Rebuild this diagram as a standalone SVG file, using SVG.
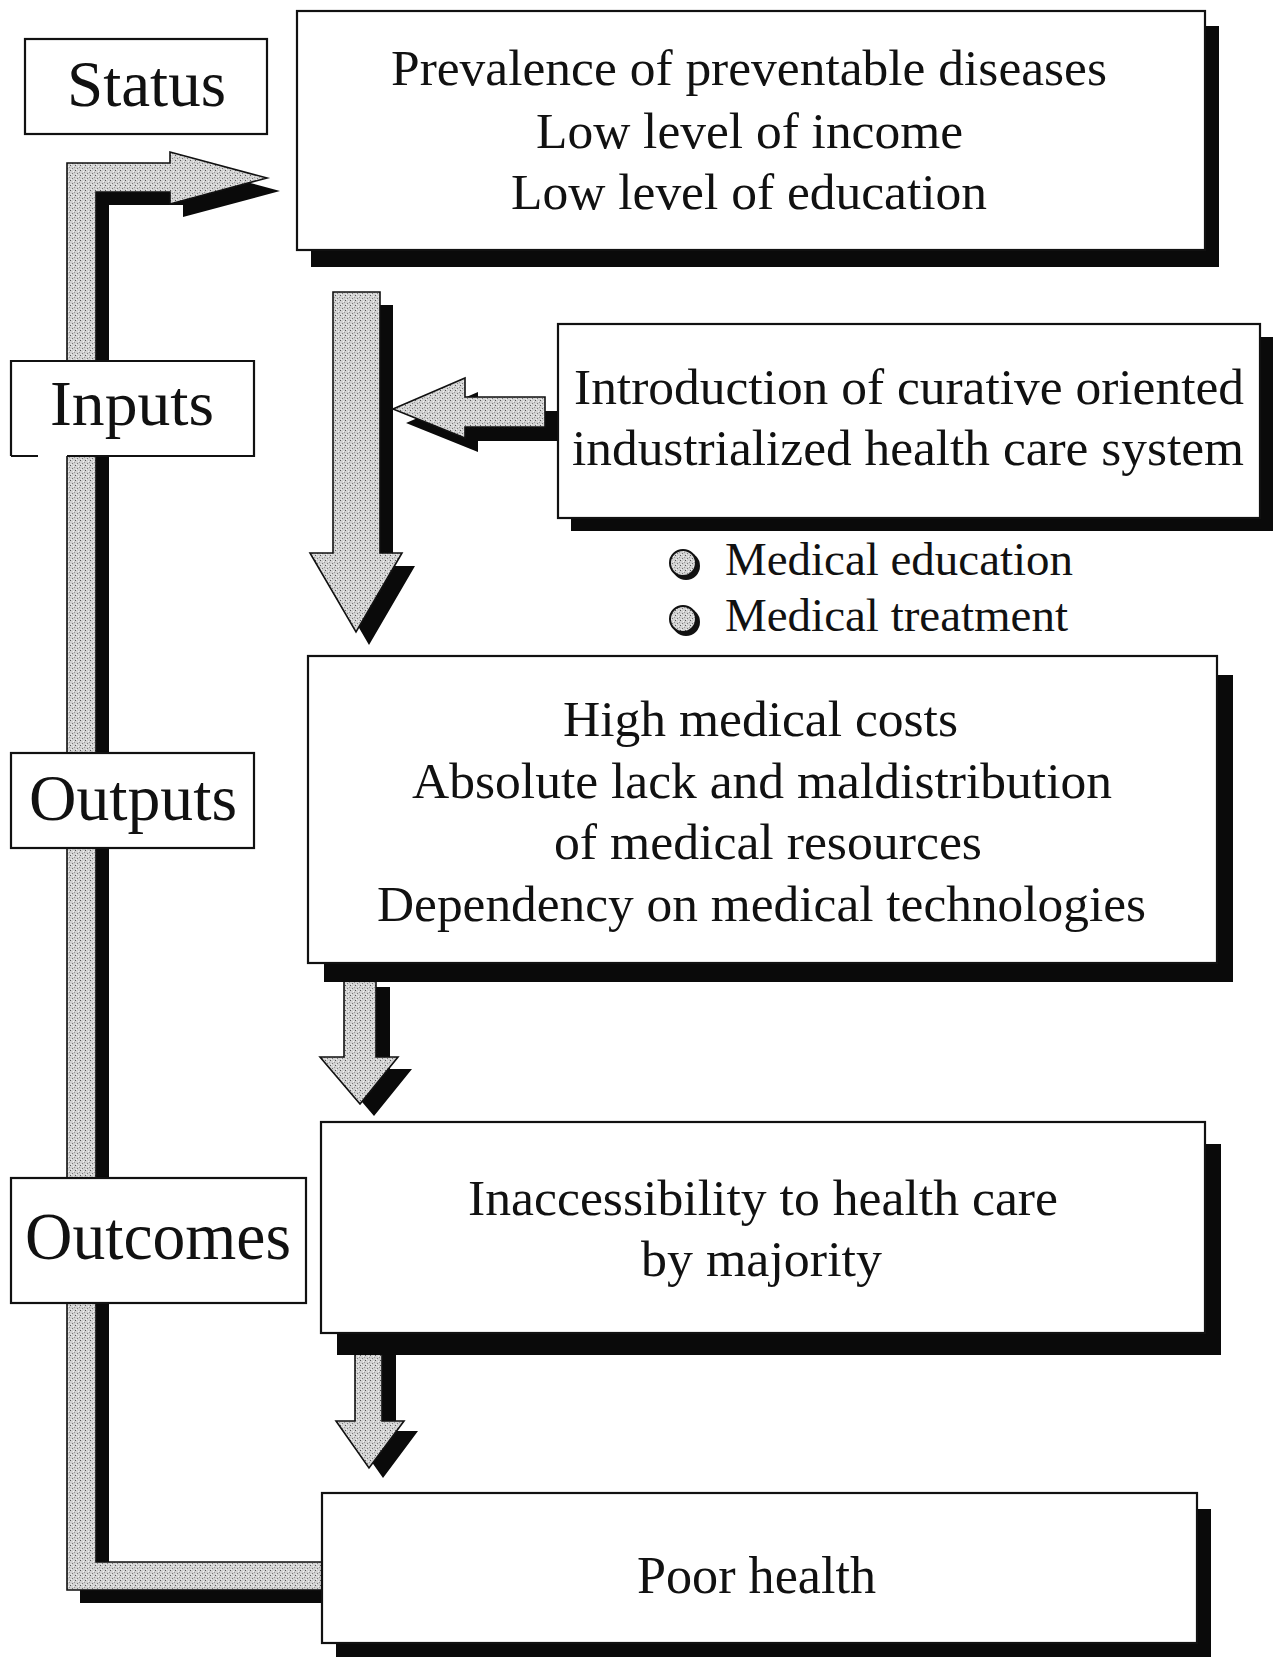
<svg xmlns="http://www.w3.org/2000/svg" width="1273" height="1657" viewBox="0 0 1273 1657">
<defs>
<pattern id="dots" width="5" height="5" patternUnits="userSpaceOnUse">
<rect width="5" height="5" fill="#d2d2d2"/>
<rect x="0" y="0" width="1" height="1" fill="#555"/>
<rect x="2" y="3" width="1" height="1" fill="#777"/>
<rect x="4" y="2" width="1" height="1" fill="#999"/>
<rect x="3" y="1" width="1" height="1" fill="#f2f2f2"/>
<rect x="1" y="4" width="1" height="1" fill="#f2f2f2"/>
</pattern>
<style>
.box{fill:#fff;stroke:#111;stroke-width:2.2}
.sh{fill:#0a0a0a}
.arr{fill:url(#dots);stroke:#111;stroke-width:1.6;stroke-linejoin:miter}
.ash{fill:#0a0a0a}
.t{font-family:"Liberation Serif","Times New Roman",serif;fill:#111;text-anchor:middle}
.tl{font-family:"Liberation Serif","Times New Roman",serif;fill:#111}
.bul{fill:url(#dots);stroke:#111;stroke-width:2}
.bsh{fill:#111}
</style>
</defs>
<rect width="1273" height="1657" fill="#fff"/>

<g id="connectors">
  <g id="loop">
    <path class="ash" transform="translate(13,13)" d="M322,1562 L96,1562 L96,192 L170,192 L170,204 L267,178 L170,152 L170,163 L67,163 L67,1590 L322,1590 Z"/>
    <path class="arr" d="M322,1562 L96,1562 L96,192 L170,192 L170,204 L267,178 L170,152 L170,163 L67,163 L67,1590 L322,1590 Z"/>
  </g>
  <g id="arrow-main">
    <path class="ash" transform="translate(13,13)" d="M333,292 L380,292 L380,553 L402,553 L356,632 L310,553 L333,553 Z"/>
    <path class="arr" d="M333,292 L380,292 L380,553 L402,553 L356,632 L310,553 L333,553 Z"/>
  </g>
  <g id="arrow-inputs">
    <path class="ash" transform="translate(13,14)" d="M545,397 L465,397 L465,378 L393,409 L465,438 L465,427 L545,427 Z"/>
    <path class="arr" d="M545,397 L465,397 L465,378 L393,409 L465,438 L465,427 L545,427 Z"/>
  </g>
  <g id="arrow-outputs">
    <path class="ash" transform="translate(14,12)" d="M344,975 L376,975 L376,1057 L398,1057 L360,1104 L320,1057 L344,1057 Z"/>
    <path class="arr" d="M344,975 L376,975 L376,1057 L398,1057 L360,1104 L320,1057 L344,1057 Z"/>
  </g>
  <g id="arrow-outcomes">
    <path class="ash" transform="translate(14,10)" d="M355,1345 L382,1345 L382,1421 L404,1421 L369,1468 L336,1421 L355,1421 Z"/>
    <path class="arr" d="M355,1345 L382,1345 L382,1421 L404,1421 L369,1468 L336,1421 L355,1421 Z"/>
  </g>
</g>

<g id="label-status">
  <rect class="box" x="25" y="39" width="242" height="95"/>
  <text class="t" x="146.5" y="106" font-size="66" textLength="159" lengthAdjust="spacingAndGlyphs">Status</text>
</g>
<g id="label-inputs">
  <rect fill="#fff" x="11" y="361" width="243" height="95"/>
  <path fill="none" stroke="#111" stroke-width="2.2" d="M11,456 L11,361 L254,361 L254,456 L67,456 M38,456 L11,456"/>
  <text class="t" x="132" y="425" font-size="64" textLength="164" lengthAdjust="spacingAndGlyphs">Inputs</text>
</g>
<g id="label-outputs">
  <rect class="box" x="11" y="753" width="243" height="95"/>
  <text class="t" x="133" y="820" font-size="65" textLength="208" lengthAdjust="spacingAndGlyphs">Outputs</text>
</g>
<g id="label-outcomes">
  <rect class="box" x="11" y="1178" width="295" height="125"/>
  <text class="t" x="158" y="1259" font-size="67" textLength="266" lengthAdjust="spacingAndGlyphs">Outcomes</text>
</g>

<g id="status">
  <rect class="sh" x="311" y="26" width="908" height="241"/>
  <rect class="box" x="297" y="11" width="908" height="239"/>
  <text class="t" x="749" y="85" font-size="51" textLength="716" lengthAdjust="spacingAndGlyphs">Prevalence of preventable diseases</text>
  <text class="t" x="749.5" y="148" font-size="51" textLength="427" lengthAdjust="spacingAndGlyphs">Low level of income</text>
  <text class="t" x="749" y="209" font-size="51" textLength="476" lengthAdjust="spacingAndGlyphs">Low level of education</text>
</g>

<g id="inputs">
  <rect class="sh" x="571" y="337" width="702" height="194"/>
  <rect class="box" x="558" y="324" width="702" height="194"/>
  <text class="t" x="909" y="404" font-size="51" textLength="670" lengthAdjust="spacingAndGlyphs">Introduction of curative oriented</text>
  <text class="t" x="908" y="465" font-size="51" textLength="672" lengthAdjust="spacingAndGlyphs">industrialized health care system</text>
</g>

<g id="inputs-bullets">
  <circle class="bsh" cx="686" cy="566" r="14"/>
  <circle class="bul" cx="683" cy="563" r="13"/>
  <text class="tl" x="725" y="575" font-size="46" textLength="348" lengthAdjust="spacingAndGlyphs">Medical education</text>
  <circle class="bsh" cx="686" cy="622" r="14"/>
  <circle class="bul" cx="683" cy="619" r="13"/>
  <text class="tl" x="725" y="631" font-size="46" textLength="343" lengthAdjust="spacingAndGlyphs">Medical treatment</text>
</g>

<g id="outputs">
  <rect class="sh" x="324" y="675" width="909" height="307"/>
  <rect class="box" x="308" y="656" width="909" height="307"/>
  <text class="t" x="760.5" y="736" font-size="51" textLength="395" lengthAdjust="spacingAndGlyphs">High medical costs</text>
  <text class="t" x="762" y="798" font-size="51" textLength="700" lengthAdjust="spacingAndGlyphs">Absolute lack and maldistribution</text>
  <text class="t" x="768" y="859" font-size="51" textLength="428" lengthAdjust="spacingAndGlyphs">of medical resources</text>
  <text class="t" x="761.5" y="921" font-size="51" textLength="769" lengthAdjust="spacingAndGlyphs">Dependency on medical technologies</text>
</g>

<g id="outcomes">
  <rect class="sh" x="337" y="1144" width="884" height="211"/>
  <rect class="box" x="321" y="1122" width="884" height="211"/>
  <text class="t" x="763" y="1215" font-size="51" textLength="590" lengthAdjust="spacingAndGlyphs">Inaccessibility to health care</text>
  <text class="t" x="761.5" y="1276" font-size="51" textLength="241" lengthAdjust="spacingAndGlyphs">by majority</text>
</g>

<g id="poor-health">
  <rect class="sh" x="336" y="1509" width="875" height="160"/>
  <rect class="box" x="322" y="1493" width="875" height="150"/>
  <text class="t" x="756.5" y="1593" font-size="53" textLength="239" lengthAdjust="spacingAndGlyphs">Poor health</text>
</g>
</svg>
